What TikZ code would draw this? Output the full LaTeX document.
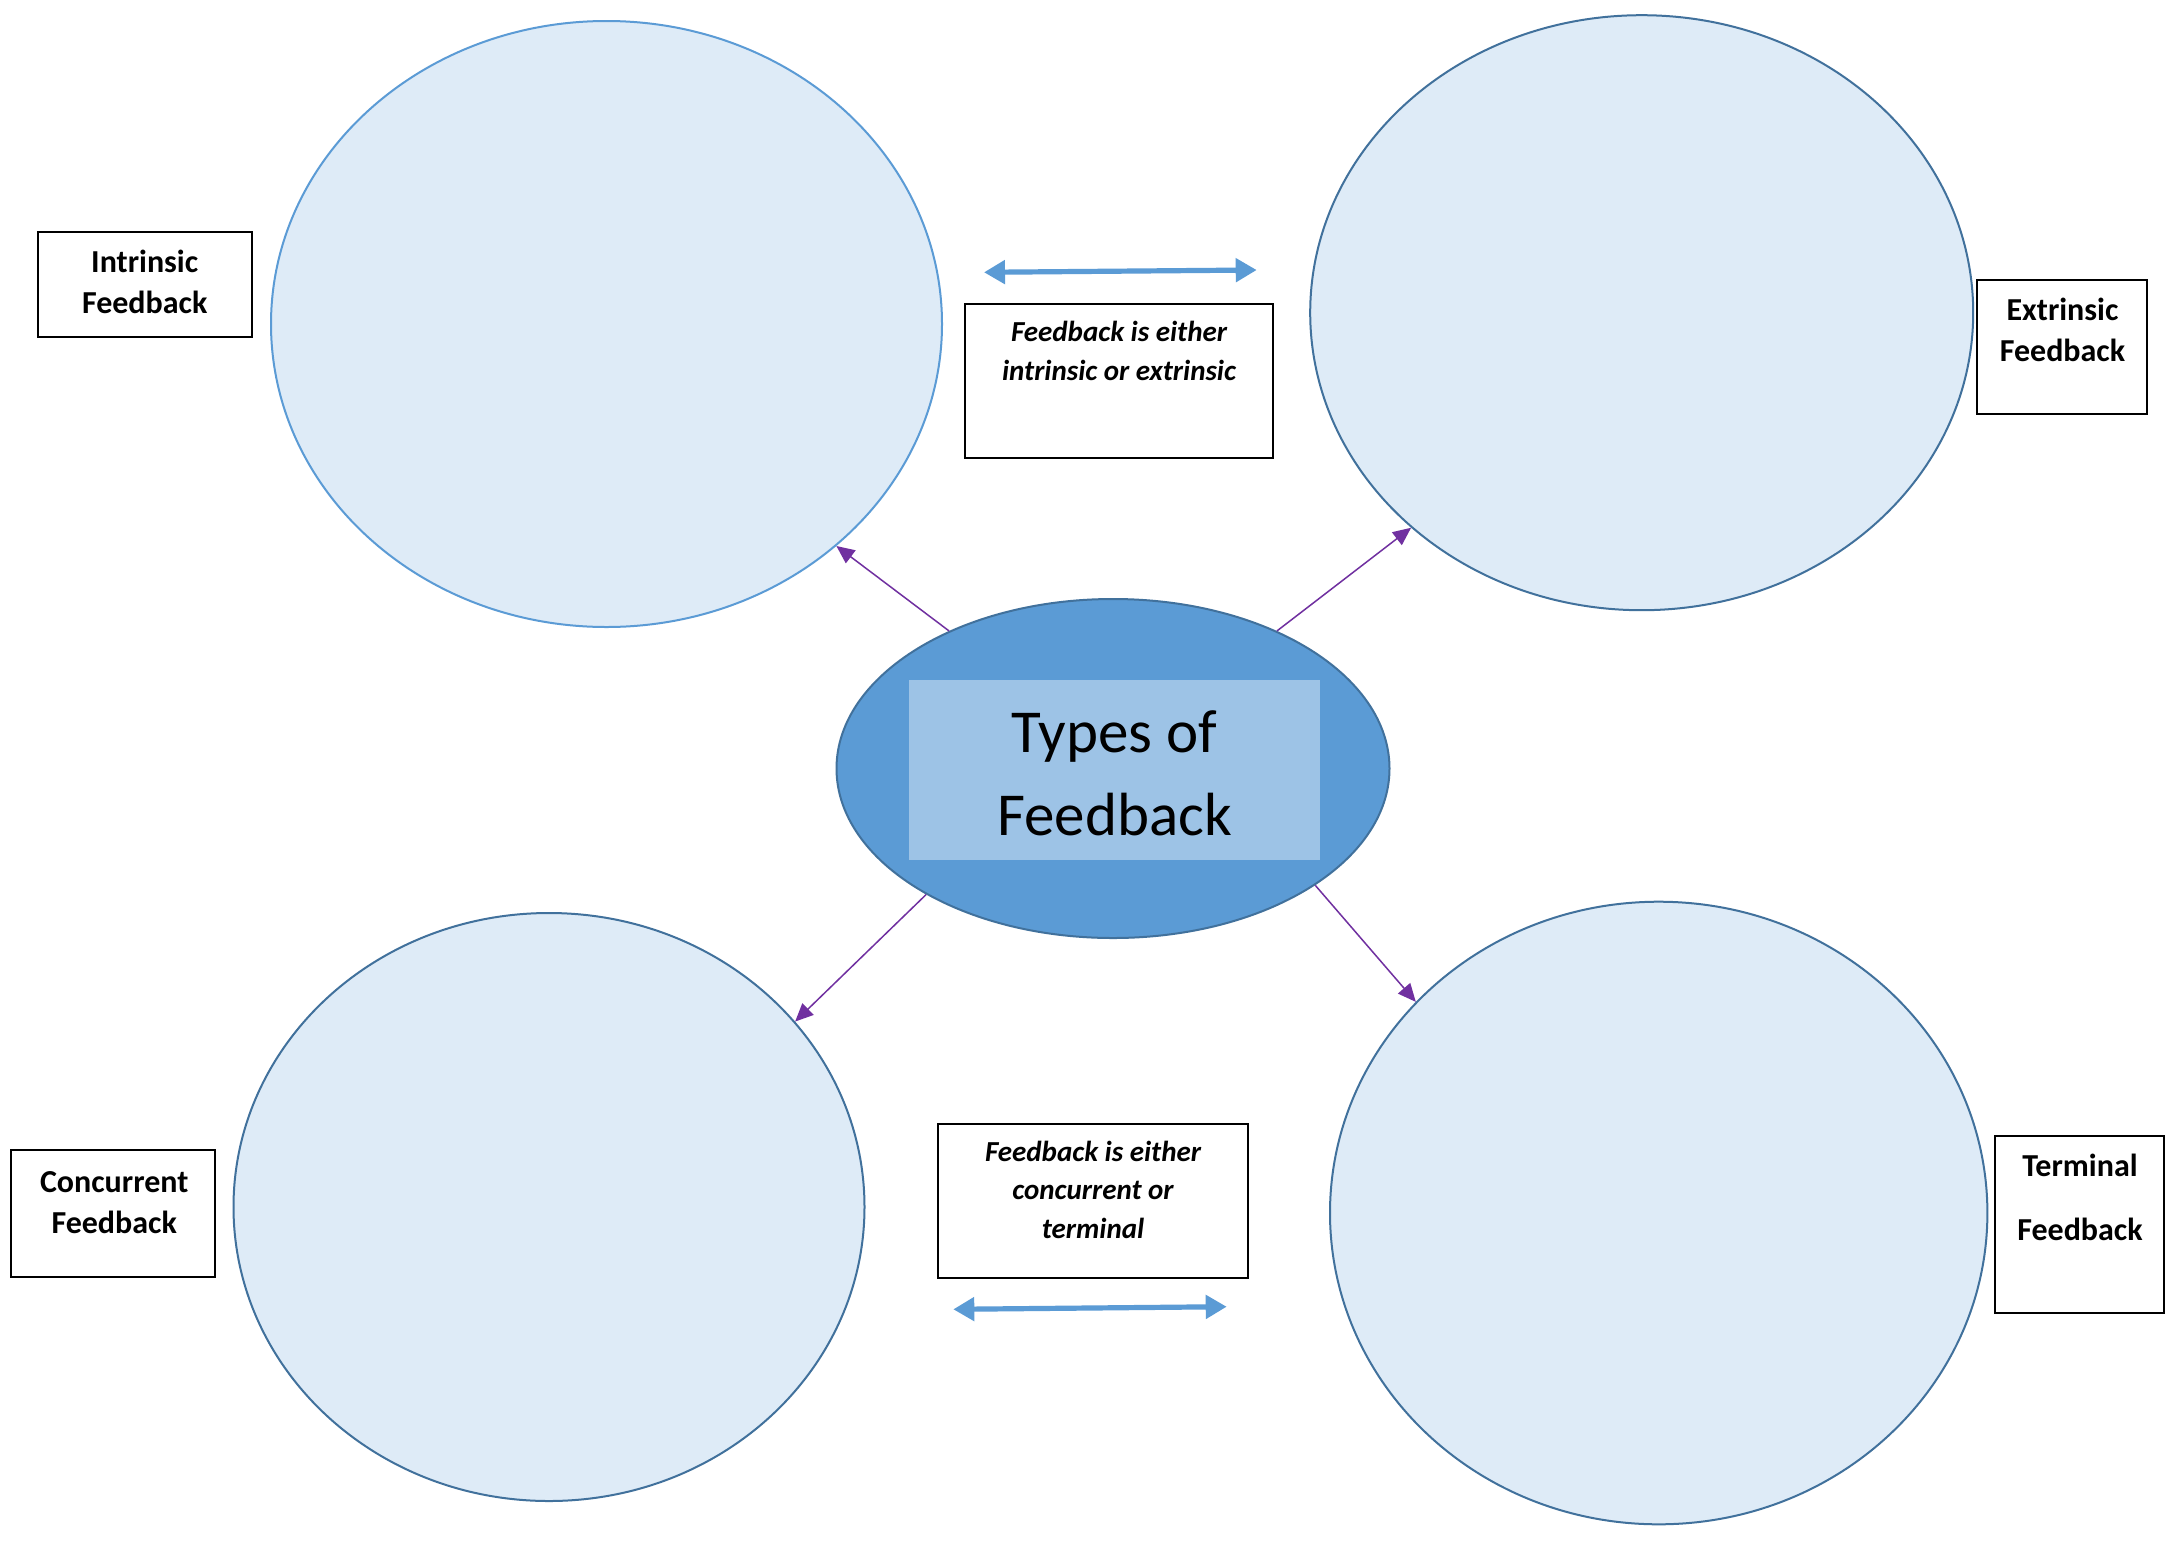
\documentclass[tikz,border=0pt]{standalone}
\usepackage{fontspec}
\setmainfont{Carlito}
\usetikzlibrary{shapes.geometric,arrows.meta}
\definecolor{bubfill}{HTML}{DEEBF7}
\definecolor{bubdark}{HTML}{41719C}
\definecolor{bublight}{HTML}{5B9BD5}
\definecolor{innerfill}{HTML}{9DC3E6}
\definecolor{purp}{HTML}{7030A0}
\begin{document}
\begin{tikzpicture}[x=0.5pt,y=-0.5pt,
  bubble/.style={ellipse, draw=bubdark, fill=bubfill, line width=1pt, inner sep=0pt},
  labbox/.style={rectangle, draw=black, line width=1pt, inner sep=0pt, fill=white},
  labtxt/.style={font=\fontsize{16}{20.5}\selectfont\bfseries, align=center, anchor=base, inner sep=0pt},
  notetxt/.style={font=\fontsize{14.5}{19.2}\selectfont\bfseries\itshape, align=center, anchor=base, inner sep=0pt},
  dblarrow/.style={draw=bublight, line width=2.6pt, {Triangle[width=11.5pt,length=10.5pt]}-{Triangle[width=11.5pt,length=10.5pt]}},
  parrow/.style={draw=purp, line width=0.75pt, -{Triangle[width=8pt,length=9pt]}}
]
\useasboundingbox (0,0) rectangle (2179,1543);
\fill[white] (0,0) rectangle (2179,1543);

% outer bubbles
\node[bubble, draw=bublight, minimum width=335.5pt, minimum height=303pt] (tl) at (606.5,324) {};
\node[bubble, minimum width=331.5pt, minimum height=297.5pt] (tr) at (1641.7,312.7) {};
\node[bubble, minimum width=315.5pt, minimum height=294pt] (bl) at (549,1207) {};
\node[bubble, minimum width=328.7pt, minimum height=311.3pt] (br) at (1658.7,1213) {};

% centre
\node[ellipse, draw=bubdark, fill=bublight, line width=1pt, inner sep=0pt,
      minimum width=276.5pt, minimum height=169.5pt] (c) at (1113,768.5) {};
\node[rectangle, fill=innerfill, inner sep=0pt, minimum width=205.5pt, minimum height=90.3pt] (ci) at (1114.5,770) {};
\node[font=\fontsize{30.5}{41.3}\selectfont, align=center, anchor=base, inner sep=0pt] (ct) at (1114.5,835) {Types of\\Feedback};

% purple connectors
\draw[parrow] (c.140.9) -- (tl.-44.3);
\draw[parrow] (c.40.2) -- (tr.-137.4);
\draw[parrow] (c.214.6) -- (bl.37.6);
\draw[parrow] (c.-30.5) -- (br.139.7);

% label boxes
\node[labbox, minimum width=106.7pt, minimum height=52.5pt] (ib) at (145,284.2) {};
\node[labtxt] (it) at (144.7,313.3) {Intrinsic\\Feedback};

\node[labbox, minimum width=85pt, minimum height=67pt] (eb) at (2062.3,347) {};
\node[labtxt] (et) at (2062.5,361.7) {Extrinsic\\Feedback};

\node[labbox, minimum width=102.15pt, minimum height=63.35pt] (cb) at (112.9,1213.3) {};
\node[labtxt] (cot) at (114.2,1233.3) {Concurrent\\Feedback};

\node[labbox, minimum width=84.5pt, minimum height=88.5pt] (tb) at (2079.5,1224.2) {};
\node[labtxt, font=\fontsize{16}{31.7}\selectfont\bfseries] (tt) at (2080,1240) {Terminal\\Feedback};

% note boxes
\node[labbox, minimum width=154.2pt, minimum height=77pt] (nb1) at (1119.2,381.3) {};
\node[notetxt] (nt1) at (1119,380) {Feedback is either\\intrinsic or extrinsic};

\node[labbox, minimum width=155pt, minimum height=77.2pt] (nb2) at (1093.3,1201.2) {};
\node[notetxt] (nt2) at (1093,1238.3) {Feedback is either\\concurrent or\\terminal};

% double arrows
\coordinate (ta1) at (984,272.3);
\coordinate (ta2) at (1256.7,270);
\draw[dblarrow] (ta1) -- (ta2);
\coordinate (ba1) at (953.3,1309.3);
\coordinate (ba2) at (1226.7,1306.7);
\draw[dblarrow] (ba1) -- (ba2);
\end{tikzpicture}
\end{document}
